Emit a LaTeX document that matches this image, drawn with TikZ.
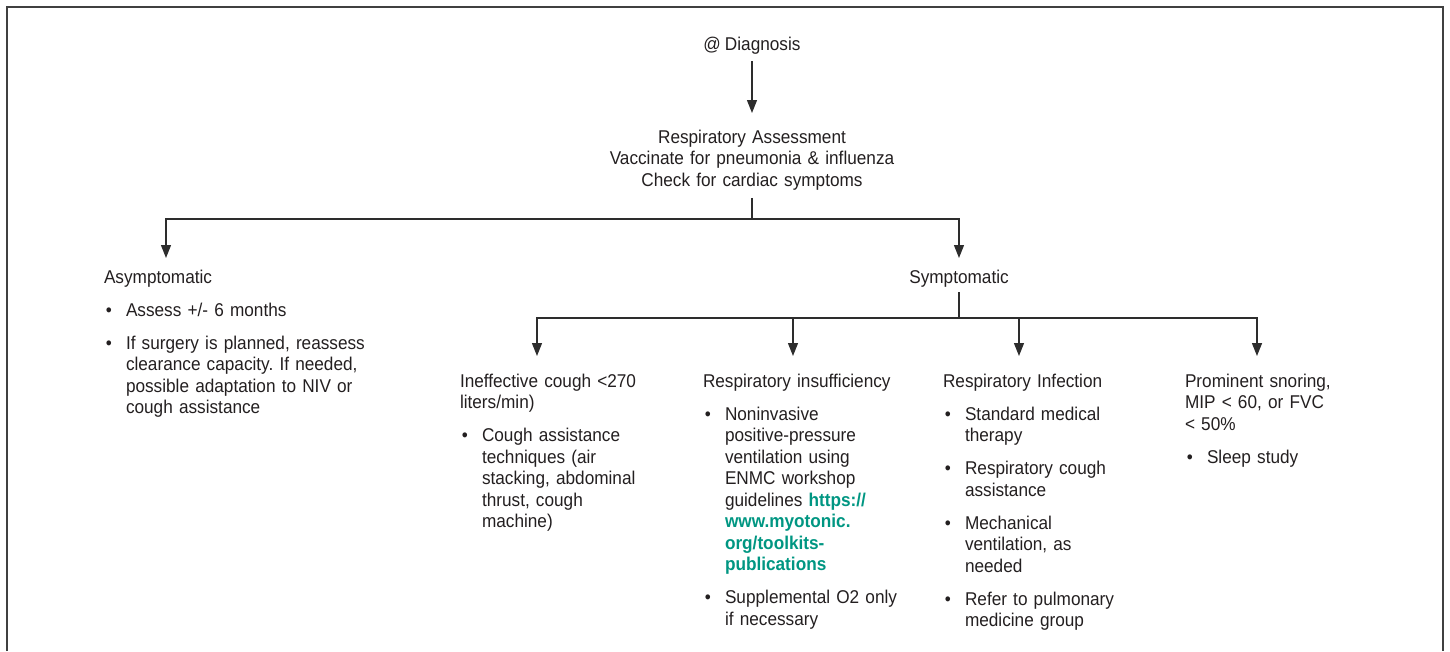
\documentclass[tikz,border=0pt]{standalone}
\usepackage{fontspec}
\setmainfont{Liberation Sans}[FakeStretch=0.93, WordSpace=0.85]
\usepackage{enumitem}
\usetikzlibrary{arrows.meta,calc}
\definecolor{linkc}{RGB}{0,150,130}
\definecolor{txtc}{RGB}{35,31,32}
\definecolor{linec}{RGB}{45,45,45}
\setlist[itemize]{label=\textbullet, leftmargin=22pt, labelsep=14pt, topsep=11.5pt, itemsep=11.5pt, parsep=0pt, partopsep=0pt}
\newcommand{\lnk}[1]{\textcolor{linkc}{\bfseries #1}}
\frenchspacing
\begin{document}
\begin{tikzpicture}[x=1pt,y=-1pt,
  txt/.style={font=\fontsize{18.5}{21.5}\selectfont\frenchspacing, text=txtc, inner sep=0pt, outer sep=0pt},
  col/.style={txt, anchor=base west, align=left},
  conn/.style={draw=linec, line width=1.3pt},
  arr/.style={conn, -{Triangle[length=13pt,width=10pt]}}]
\useasboundingbox (0,0) rectangle (1450,651);
\draw[line width=1.8pt, black!75] (7,651) -- (7,7) -- (1443,7) -- (1443,651);

\node[txt, anchor=base] (diag) at (752,50) {@ Diagnosis};
\node[txt, anchor=base, text width=340pt, align=center] (assess) at (752,143)
  {Respiratory Assessment\\ Vaccinate for pneumonia \& influenza\\ Check for cardiac symptoms};

\node[col, text width=270pt] (asym) at (104,283) {Asymptomatic
  \begin{itemize}
  \item Assess +/- 6 months
  \item If surgery is planned, reassess\\ clearance capacity. If needed,\\ possible adaptation to NIV or\\ cough assistance
  \end{itemize}};
\node[txt, anchor=base] (symp) at (959,283) {Symptomatic};

\node[col, text width=225pt] (cough) at (460,387) {Ineffective cough <270\\ liters/min)
  \begin{itemize}
  \item Cough assistance\\ techniques (air\\ stacking, abdominal\\ thrust, cough\\ machine)
  \end{itemize}};
\node[col, text width=225pt] (insuf) at (703,387) {Respiratory insufficiency
  \begin{itemize}
  \item Noninvasive\\ positive-pressure\\ ventilation using\\ ENMC workshop\\ guidelines \lnk{https://}\\ \lnk{www.myotonic.}\\ \lnk{org/toolkits-}\\ \lnk{publications}
  \item Supplemental O2 only\\ if necessary
  \end{itemize}};
\node[col, text width=225pt] (infect) at (943,387) {Respiratory Infection
  \begin{itemize}
  \item Standard medical\\ therapy
  \item Respiratory cough\\ assistance
  \item Mechanical\\ ventilation, as\\ needed
  \item Refer to pulmonary\\ medicine group
  \end{itemize}};
\node[col, text width=240pt] (snore) at (1185,387) {Prominent snoring,\\ MIP < 60, or FVC\\ < 50\%
  \begin{itemize}
  \item Sleep study
  \end{itemize}};

\draw[arr] ($(diag.base)+(0,11)$) -- ($(assess.base)+(0,-30)$);
\coordinate (j1) at (752,219);
\draw[conn] ($(assess.south)+(0,8)$) -- (j1);
\draw[arr] (j1) -| ($(asym.base west)+(62,-25)$);
\draw[arr] (j1) -| ($(symp.base)+(0,-25)$);
\coordinate (j2) at (959,318);
\draw[conn] ($(symp.base)+(0,9)$) -- (j2);
\draw[arr] (j2) -| ($(cough.base west)+(77,-31)$);
\draw[arr] (j2) -| ($(insuf.base west)+(90,-31)$);
\draw[arr] (j2) -| ($(infect.base west)+(76,-31)$);
\draw[arr] (j2) -| ($(snore.base west)+(72,-31)$);
\end{tikzpicture}
\end{document}
